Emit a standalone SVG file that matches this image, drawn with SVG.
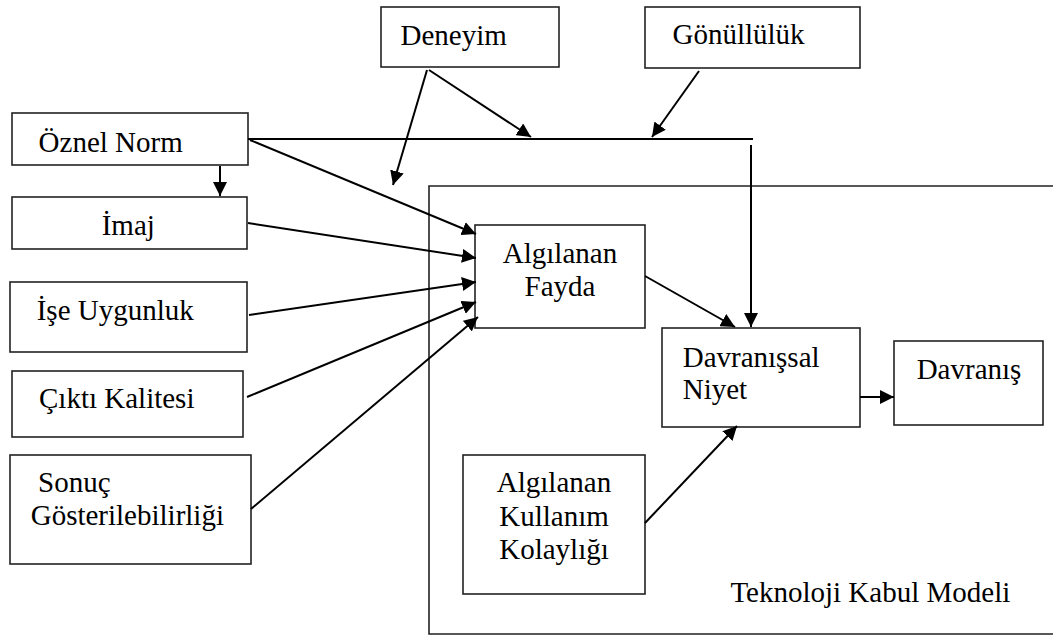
<svg xmlns="http://www.w3.org/2000/svg" width="1053" height="637" viewBox="0 0 1053 637">
  <defs>
    <marker id="arrow" markerUnits="userSpaceOnUse" markerWidth="14" markerHeight="14" refX="14" refY="7" orient="auto">
      <path d="M0,0 L14,7 L0,14 z" fill="#000"/>
    </marker>
    <style>
      .box { fill: #fff; stroke: #222; stroke-width: 1.6; }
      .frame { fill: none; stroke: #222; stroke-width: 1.6; }
      .lbl { font-family: "Liberation Serif", "Times New Roman", serif; font-size: 29px; fill: #000; }
      .mid { text-anchor: middle; }
      .conn line { stroke: #000; stroke-width: 2; }
      .conn .arr { marker-end: url(#arrow); }
    </style>
  </defs>

  <rect width="1053" height="637" fill="#fff"/>

  <!-- Technology Acceptance Model frame (open to the right) -->
  <g id="tam-frame">
    <path class="frame" d="M1060,186 H429 V634 H1060"/>
    <text class="lbl" x="730.4" y="602">Teknoloji Kabul Modeli</text>
  </g>

  <g id="deneyim">
    <rect class="box" x="381" y="7" width="178" height="60"/>
    <text class="lbl" x="400.5" y="45">Deneyim</text>
  </g>

  <g id="gonulluluk">
    <rect class="box" x="645" y="7" width="215" height="61"/>
    <text class="lbl" x="672.5" y="44">Gönüllülük</text>
  </g>

  <g id="oznel-norm">
    <rect class="box" x="12" y="113" width="236" height="52"/>
    <text class="lbl" x="38.6" y="151.5">Öznel Norm</text>
  </g>

  <g id="imaj">
    <rect class="box" x="12" y="197" width="235" height="52"/>
    <text class="lbl" x="101.7" y="235">İmaj</text>
  </g>

  <g id="ise-uygunluk">
    <rect class="box" x="10" y="282" width="237" height="70"/>
    <text class="lbl" x="36.7" y="320">İşe Uygunluk</text>
  </g>

  <g id="cikti-kalitesi">
    <rect class="box" x="12" y="371" width="231" height="66"/>
    <text class="lbl" x="39" y="408">Çıktı Kalitesi</text>
  </g>

  <g id="sonuc">
    <rect class="box" x="10" y="455" width="241" height="109"/>
    <text class="lbl" x="38" y="492">Sonuç</text>
    <text class="lbl" x="30.7" y="525">Gösterilebilirliği</text>
  </g>

  <g id="algilanan-fayda">
    <rect class="box" x="475" y="225" width="170" height="103"/>
    <text class="lbl mid" x="560" y="263">Algılanan</text>
    <text class="lbl mid" x="560" y="296">Fayda</text>
  </g>

  <g id="davranissal-niyet">
    <rect class="box" x="662" y="328" width="198" height="99"/>
    <text class="lbl" x="682.7" y="367">Davranışsal</text>
    <text class="lbl" x="682.7" y="399">Niyet</text>
  </g>

  <g id="davranis">
    <rect class="box" x="894" y="341" width="149" height="84"/>
    <text class="lbl mid" x="969" y="379">Davranış</text>
  </g>

  <g id="kullanim-kolayligi">
    <rect class="box" x="463" y="455" width="182" height="139"/>
    <text class="lbl mid" x="554" y="492">Algılanan</text>
    <text class="lbl mid" x="554" y="526">Kullanım</text>
    <text class="lbl mid" x="554" y="559">Kolaylığı</text>
  </g>

  <g id="connectors" class="conn">
    <line class="arr" x1="220" y1="166" x2="220" y2="196"/>
    <line x1="248" y1="139" x2="753" y2="139"/>
    <line class="arr" x1="429" y1="70" x2="531" y2="137"/>
    <line class="arr" x1="427" y1="70" x2="393" y2="185"/>
    <line class="arr" x1="699" y1="71" x2="652" y2="137"/>
    <line class="arr" x1="751" y1="145" x2="751" y2="327"/>
    <line class="arr" x1="250" y1="140" x2="476" y2="234"/>
    <line class="arr" x1="248" y1="223" x2="476" y2="258"/>
    <line class="arr" x1="249" y1="315" x2="476" y2="282"/>
    <line class="arr" x1="247" y1="397" x2="476" y2="302"/>
    <line class="arr" x1="251" y1="509" x2="478" y2="317"/>
    <line class="arr" x1="645" y1="276" x2="735" y2="327"/>
    <line class="arr" x1="645" y1="523" x2="737" y2="426"/>
    <line class="arr" x1="860" y1="397" x2="894" y2="397"/>
  </g>
</svg>
